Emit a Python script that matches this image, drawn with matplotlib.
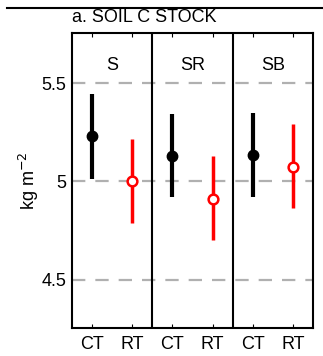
import numpy as np
import matplotlib.pyplot as plt
from matplotlib.lines import Line2D

plt.rcParams['font.family'] = ['Liberation Sans', 'DejaVu Sans']

## Données

systems = ['S', 'SR', 'SB']
tillage = ['CT', 'RT']
ct_mean = [5.23, 5.13, 5.135]
ct_low = [5.015, 4.92, 4.92]
ct_high = [5.445, 5.345, 5.35]
rt_mean = [5.0, 4.91, 5.075]
rt_low = [4.79, 4.70, 4.865]
rt_high = [5.215, 5.13, 5.29]

fig = plt.figure(figsize=(3.23, 3.56), dpi=100)
ax = fig.add_axes([72/323, 1-328/356, 241/323, 295/356])

for y in [4.5, 5, 5.5]:
    ax.axhline(y, color='#b0b0b0', lw=1.6, ls=(0, (6, 4.5)), zorder=0)

x_ct = np.arange(len(systems))*2 + 1
x_rt = x_ct + 1

ax.vlines(x_ct, ct_low, ct_high, color='black', lw=3)
ax.plot(x_ct, ct_mean, 'o', color='black', ms=7.5)
ax.vlines(x_rt, rt_low, rt_high, color='red', lw=2.5)
ax.plot(x_rt, rt_mean, 'o', mfc='white', mec='red', mew=1.8, ms=7)

for i in range(1, len(systems)):
    ax.axvline(2*i + 0.5, color='black', lw=1.5)

for i, s in enumerate(systems):
    ax.text(2*i + 1.5, 5.59, s, ha='center', va='center', fontsize=13)

ax.set_xlim(0.5, 6.5)
ax.set_ylim(4.255, 5.755)
ax.set_xticks(np.arange(1, 7))
ax.set_xticklabels(tillage*3, fontsize=13)
ax.set_yticks([4.5, 5, 5.5])
ax.set_yticklabels(['4.5', '5', '5.5'], fontsize=13)
ax.tick_params(axis='x', direction='in', length=3, top=True, pad=6)
ax.tick_params(axis='y', length=0, pad=4)
for sp in ax.spines.values():
    sp.set_linewidth(1.5)
ax.set_ylabel('kg m$^{-2}$', fontsize=13)
ax.yaxis.set_label_coords(-0.13, 0.5)

fig.add_artist(Line2D([7/323, 1], [1-8/356, 1-8/356], color='black', lw=1.5))
fig.text(72/323, 1-18/356, 'a. SOIL C STOCK', fontsize=13, va='center', ha='left')

fig.savefig('out.png', dpi=100)
